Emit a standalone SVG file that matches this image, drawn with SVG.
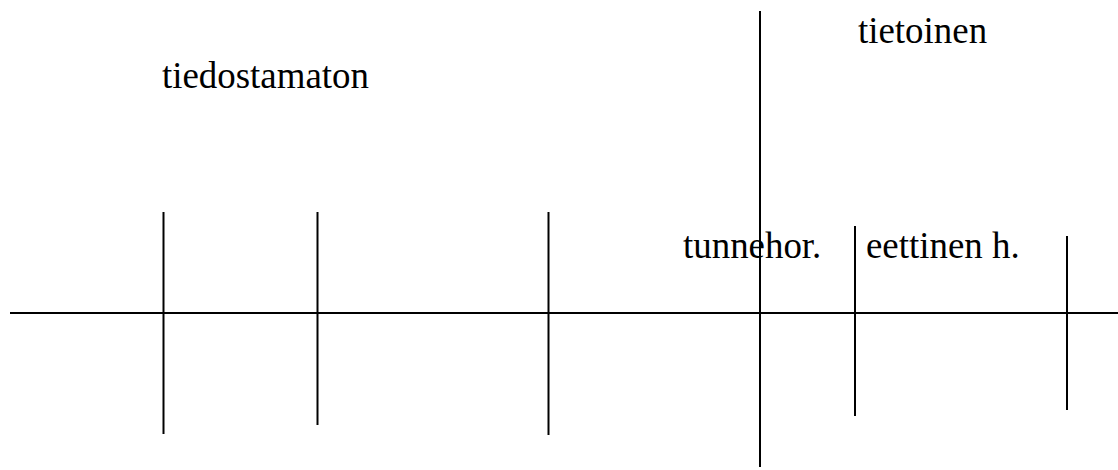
<svg xmlns="http://www.w3.org/2000/svg" width="1118" height="470" viewBox="0 0 1118 470">
<style>
.ln{stroke:#000;stroke-width:2;fill:none}
.lb{font-family:"Liberation Serif","Times New Roman",serif;font-size:36.9px;fill:#000}
</style>
<rect width="1118" height="470" fill="#fff"/>
<g id="connectors">
<line class="ln" x1="10" y1="313" x2="1118" y2="313"/>
<line class="ln" x1="163.5" y1="212" x2="163.5" y2="434"/>
<line class="ln" x1="317.5" y1="212" x2="317.5" y2="425"/>
<line class="ln" x1="548.5" y1="212" x2="548.5" y2="435"/>
<line class="ln" x1="760" y1="11" x2="760" y2="467"/>
<line class="ln" x1="855" y1="226" x2="855" y2="416"/>
<line class="ln" x1="1067" y1="236" x2="1067" y2="410"/>
</g>
<g id="tiedostamaton"><text class="lb" x="162" y="88">tiedostamaton</text></g>
<g id="tietoinen"><text class="lb" x="858" y="43">tietoinen</text></g>
<g id="tunnehor"><text class="lb" x="683" y="258">tunnehor.</text></g>
<g id="eettinen"><text class="lb" x="866" y="258">eettinen h.</text></g>
</svg>
